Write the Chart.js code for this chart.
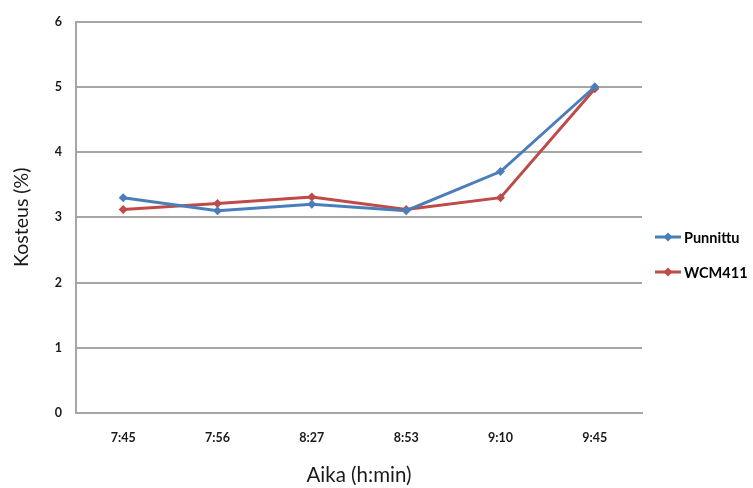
<!DOCTYPE html>
<html>
<head>
<meta charset="utf-8">
<script src="https://cdn.jsdelivr.net/npm/chart.js@4/dist/chart.umd.min.js"></script>
<style>
html,body{margin:0;padding:0;background:#fff;}
#wrap{width:753px;height:488px;position:relative;}
</style>
</head>
<body>
<div id="wrap"><canvas id="c" width="753" height="488"></canvas></div>
<script>
const categories = ["7:45", "7:56", "8:27", "8:53", "9:10", "9:45"];
const punnittu = [3.3, 3.1, 3.2, 3.1, 3.7, 5.0];
const wcm411 = [3.12, 3.21, 3.31, 3.12, 3.3, 4.97];
const seriesNames = ["Punnittu", "WCM411"];
const yTicks = [0, 1, 2, 3, 4, 5, 6];
const xTitle = "Aika (h:min)";
const yTitle = "Kosteus (%)";

const BLUE = "#4a7ebb";
const RED = "#be4b48";
const FONT = "Lato, 'Open Sans', 'DejaVu Sans', sans-serif";

const legendPlugin = {
  id: 'customLegend',
  afterDraw(chart) {
    const ctx = chart.ctx;
    const ys = [237, 272];
    chart.data.datasets.forEach((ds, i) => {
      const y = ys[i];
      ctx.save();
      ctx.strokeStyle = ds.borderColor;
      ctx.lineWidth = 3;
      ctx.beginPath();
      ctx.moveTo(655, y);
      ctx.lineTo(681, y);
      ctx.stroke();
      ctx.fillStyle = ds.borderColor;
      ctx.beginPath();
      const cx = 668, r = 4.5;
      ctx.moveTo(cx, y - r); ctx.lineTo(cx + r, y); ctx.lineTo(cx, y + r); ctx.lineTo(cx - r, y); ctx.closePath();
      ctx.fill();
      ctx.fillStyle = "#000";
      ctx.font = "bold 14.5px " + FONT;
      ctx.textAlign = "left";
      ctx.textBaseline = "middle";
      ctx.fillText(ds.label, 684, y + 1);
      ctx.restore();
    });
  }
};

new Chart(document.getElementById('c'), {
  type: 'line',
  data: {
    labels: categories,
    datasets: [
      { label: seriesNames[0], data: punnittu, borderColor: BLUE, backgroundColor: BLUE, borderWidth: 3,
        pointStyle: 'rectRot', pointRadius: 4.5, pointBorderWidth: 0, pointBackgroundColor: BLUE, tension: 0 },
      { label: seriesNames[1], data: wcm411, borderColor: RED, backgroundColor: RED, borderWidth: 3,
        pointStyle: 'rectRot', pointRadius: 4.5, pointBorderWidth: 0, pointBackgroundColor: RED, tension: 0 }
    ]
  },
  options: {
    responsive: false,
    animation: false,
    clip: false,
    layout: { padding: { left: 0, right: 111, top: 19, bottom: 0 } },
    plugins: { legend: { display: false }, tooltip: { enabled: false } },
    scales: {
      x: {
        offset: true,
        grid: { display: false, drawTicks: false },
        border: { display: true, color: '#a6a6a6', width: 2 },
        ticks: { color: '#1a1a1a', font: { family: FONT, size: 12.5, weight: 'bold' }, padding: 17, maxRotation: 0 },
        title: { display: true, text: xTitle, color: '#1a1a1a', font: { family: FONT, size: 20.5 }, padding: { top: 0, bottom: 0 } },
        afterFit(scale) { scale.height = 75; }
      },
      y: {
        min: 0, max: 6,
        afterBuildTicks(scale) { scale.ticks = yTicks.map(v => ({ value: v })); },
        grid: { color: '#a6a6a6', lineWidth: 2, drawTicks: false },
        border: { display: true, color: '#a6a6a6', width: 2 },
        ticks: { color: '#1a1a1a', font: { family: FONT, size: 12.5, weight: 'bold' }, padding: 14 },
        title: { display: true, text: yTitle, color: '#1a1a1a', font: { family: FONT, size: 19.5 }, padding: { top: 10, bottom: 0 } },
        afterFit(scale) { scale.width = 76; }
      }
    }
  },
  plugins: [legendPlugin]
});
</script>
</body>
</html>
